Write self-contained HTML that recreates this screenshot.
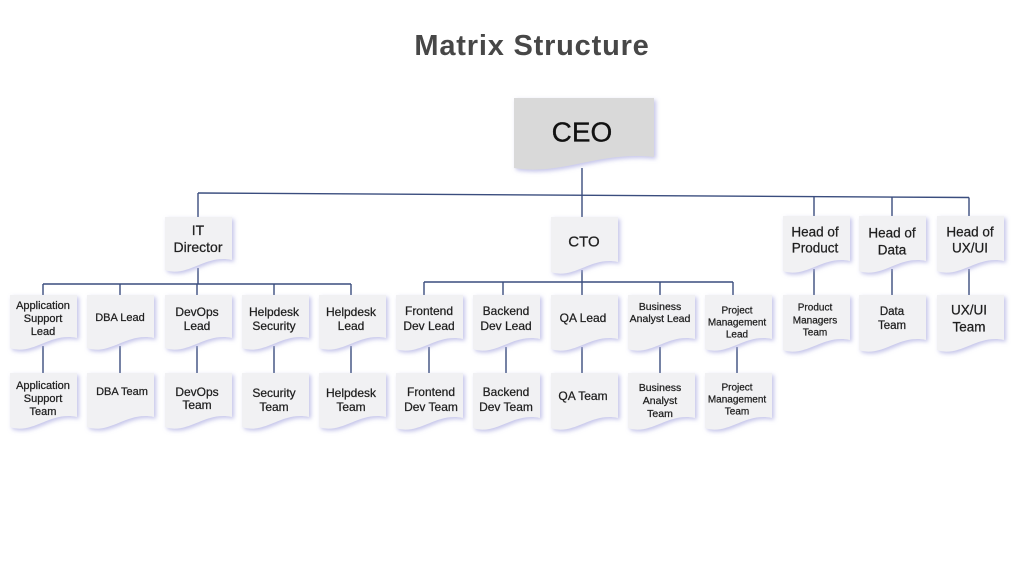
<!DOCTYPE html>
<html>
<head>
<meta charset="utf-8">
<style>
html,body{margin:0;padding:0;background:#fff;}
svg{display:block;}
text{font-family:"Liberation Sans",sans-serif;fill:#1f1f1f;stroke:#1f1f1f;stroke-width:0.25;text-anchor:middle;dominant-baseline:central;}
</style>
</head>
<body>
<svg width="1024" height="576" viewBox="0 0 1024 576" xmlns="http://www.w3.org/2000/svg">
<defs>
<filter id="sh" x="-20%" y="-20%" width="150%" height="150%">
<feDropShadow dx="2" dy="2" stdDeviation="2" flood-color="#b4b4e4" flood-opacity="0.8"/>
</filter>
</defs>
<rect width="1024" height="576" fill="#fff"/>
<text x="532" y="46" style="font-size:29px;font-weight:bold;fill:#474747;stroke:none;letter-spacing:0.8px">Matrix Structure</text>

<!-- connectors -->
<g stroke="#3a4d7e" stroke-width="1.4" fill="none">
<line x1="198" y1="193" x2="969" y2="197.5"/>
<line x1="582" y1="168" x2="582" y2="217"/>
<line x1="198" y1="193" x2="198" y2="217"/>
<line x1="814" y1="196" x2="814" y2="216"/>
<line x1="892" y1="196.5" x2="892" y2="216"/>
<line x1="969" y1="197.5" x2="969" y2="216"/>
<!-- IT -->
<line x1="198" y1="268" x2="198" y2="284"/>
<line x1="43" y1="284" x2="351" y2="284"/>
<line x1="43" y1="284" x2="43" y2="295"/>
<line x1="120" y1="284" x2="120" y2="295"/>
<line x1="197" y1="284" x2="197" y2="295"/>
<line x1="274" y1="284" x2="274" y2="295"/>
<line x1="351" y1="284" x2="351" y2="295"/>
<line x1="43" y1="346" x2="43" y2="373"/>
<line x1="120" y1="346" x2="120" y2="373"/>
<line x1="197" y1="346" x2="197" y2="373"/>
<line x1="274" y1="346" x2="274" y2="373"/>
<line x1="351" y1="346" x2="351" y2="373"/>
<!-- CTO -->
<line x1="582" y1="270" x2="582" y2="282"/>
<line x1="424" y1="282" x2="733" y2="282"/>
<line x1="424" y1="282" x2="424" y2="295"/>
<line x1="503" y1="282" x2="503" y2="295"/>
<line x1="582" y1="282" x2="582" y2="295"/>
<line x1="660" y1="282" x2="660" y2="295"/>
<line x1="733" y1="282" x2="733" y2="295"/>
<line x1="429" y1="347" x2="429" y2="373"/>
<line x1="506" y1="347" x2="506" y2="373"/>
<line x1="582" y1="347" x2="582" y2="373"/>
<line x1="660" y1="347" x2="660" y2="373"/>
<line x1="737" y1="347" x2="737" y2="373"/>
<!-- right -->
<line x1="814" y1="269" x2="814" y2="295"/>
<line x1="892" y1="269" x2="892" y2="295"/>
<line x1="969" y1="269" x2="969" y2="295"/>
</g>

<!-- boxes -->
<g filter="url(#sh)">
<path fill="#d9d9d9" d="M514 98 H654 V157 C598 151 563 176 514 168 Z"/>
</g>
<g filter="url(#sh)" fill="#f1f1f3">
<path d="M165 217 H232 V260 C205 254 188 278 165 270 Z"/>
<path d="M551 217 H618 V262 C591 256 574 280 551 272 Z"/>
<path d="M783 216 H850 V261 C823 255 806 279 783 271 Z"/>
<path d="M859 216 H926 V261 C899 255 882 279 859 271 Z"/>
<path d="M937 216 H1004 V261 C977 255 960 279 937 271 Z"/>
<path d="M783 295 H850 V340 C823 334 806 358 783 350 Z"/>
<path d="M859 295 H926 V340 C899 334 882 358 859 350 Z"/>
<path d="M937 295 H1004 V340 C977 334 960 358 937 350 Z"/>
<path d="M10 295 H77 V338 C50 332 33 356 10 348 Z"/>
<path d="M87 295 H154 V338 C127 332 110 356 87 348 Z"/>
<path d="M165 295 H232 V338 C205 332 188 356 165 348 Z"/>
<path d="M242 295 H309 V338 C282 332 265 356 242 348 Z"/>
<path d="M319 295 H386 V338 C359 332 342 356 319 348 Z"/>
<path d="M10 373 H77 V417 C50 411 33 435 10 427 Z"/>
<path d="M87 373 H154 V417 C127 411 110 435 87 427 Z"/>
<path d="M165 373 H232 V417 C205 411 188 435 165 427 Z"/>
<path d="M242 373 H309 V417 C282 411 265 435 242 427 Z"/>
<path d="M319 373 H386 V417 C359 411 342 435 319 427 Z"/>
<path d="M396 295 H463 V339 C436 333 419 357 396 349 Z"/>
<path d="M473 295 H540 V339 C513 333 496 357 473 349 Z"/>
<path d="M551 295 H618 V339 C591 333 574 357 551 349 Z"/>
<path d="M628 295 H695 V339 C668 333 651 357 628 349 Z"/>
<path d="M705 295 H772 V339 C745 333 728 357 705 349 Z"/>
<path d="M396 373 H463 V418 C436 412 419 436 396 428 Z"/>
<path d="M473 373 H540 V418 C513 412 496 436 473 428 Z"/>
<path d="M551 373 H618 V418 C591 412 574 436 551 428 Z"/>
<path d="M628 373 H695 V418 C668 412 651 436 628 428 Z"/>
<path d="M705 373 H772 V418 C745 412 728 436 705 428 Z"/>
</g>

<!-- labels -->
<text x="582" y="132" style="font-size:28px;fill:#111;stroke:#111;stroke-width:0.3">CEO</text>

<g style="font-size:14px">
<text x="198" y="230">IT</text>
<text x="198" y="247">Director</text>
<text x="584" y="242" style="font-size:15px">CTO</text>
<text x="815" y="232" style="font-size:13.5px">Head of</text>
<text x="815" y="248" style="font-size:13.5px">Product</text>
<text x="892" y="233" style="font-size:13.5px">Head of</text>
<text x="892" y="250" style="font-size:13.5px">Data</text>
<text x="970" y="232" style="font-size:13.5px">Head of</text>
<text x="970" y="248" style="font-size:13.5px">UX/UI</text>
</g>

<text x="815" y="308" style="font-size:10px">Product</text>
<text x="815" y="321" style="font-size:10px">Managers</text>
<text x="815" y="333" style="font-size:10px">Team</text>
<text x="892" y="312" style="font-size:11.5px">Data</text>
<text x="892" y="326" style="font-size:11.5px">Team</text>
<text x="969" y="310" style="font-size:13.5px">UX/UI</text>
<text x="969" y="327" style="font-size:13.5px">Team</text>

<g style="font-size:11px">
<text x="43" y="306">Application</text>
<text x="43" y="319">Support</text>
<text x="43" y="332">Lead</text>
<text x="120" y="318">DBA Lead</text>
</g>
<g style="font-size:12px">
<text x="197" y="312">DevOps</text>
<text x="197" y="326">Lead</text>
<text x="274" y="312">Helpdesk</text>
<text x="274" y="326">Security</text>
<text x="351" y="312">Helpdesk</text>
<text x="351" y="326">Lead</text>
</g>
<g style="font-size:11px">
<text x="43" y="386">Application</text>
<text x="43" y="399">Support</text>
<text x="43" y="412">Team</text>
<text x="122" y="392">DBA Team</text>
</g>
<g style="font-size:12px">
<text x="197" y="392">DevOps</text>
<text x="197" y="405">Team</text>
<text x="274" y="393">Security</text>
<text x="274" y="407">Team</text>
<text x="351" y="393">Helpdesk</text>
<text x="351" y="407">Team</text>
</g>

<g style="font-size:12px">
<text x="429" y="311">Frontend</text>
<text x="429" y="326">Dev Lead</text>
<text x="506" y="311">Backend</text>
<text x="506" y="326">Dev Lead</text>
<text x="583" y="318">QA Lead</text>
</g>
<text x="660" y="307" style="font-size:10.5px">Business</text>
<text x="660" y="319" style="font-size:10.5px">Analyst Lead</text>
<text x="737" y="311" style="font-size:10px">Project</text>
<text x="737" y="323" style="font-size:10px">Management</text>
<text x="737" y="335" style="font-size:10px">Lead</text>
<g style="font-size:12px">
<text x="431" y="392">Frontend</text>
<text x="431" y="407">Dev Team</text>
<text x="506" y="392">Backend</text>
<text x="506" y="407">Dev Team</text>
<text x="583" y="396">QA Team</text>
</g>
<text x="660" y="388" style="font-size:10.5px">Business</text>
<text x="660" y="401" style="font-size:10.5px">Analyst</text>
<text x="660" y="414" style="font-size:10.5px">Team</text>
<text x="737" y="388" style="font-size:10px">Project</text>
<text x="737" y="400" style="font-size:10px">Management</text>
<text x="737" y="412" style="font-size:10px">Team</text>
</svg>
</body>
</html>
